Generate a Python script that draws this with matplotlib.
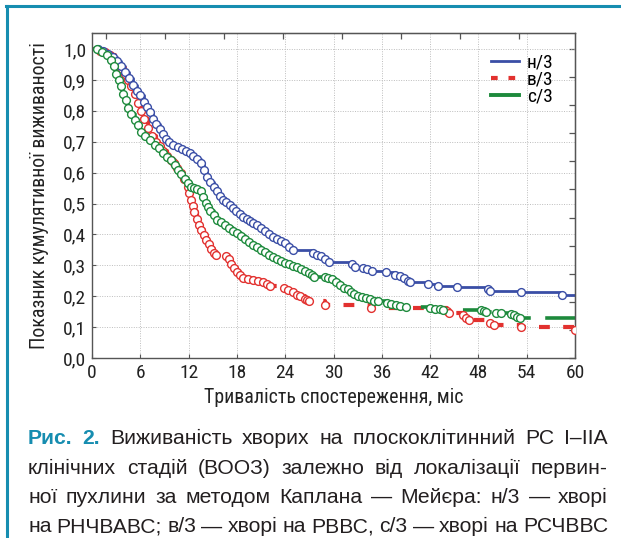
import numpy as np
import matplotlib
matplotlib.use("Agg")
import matplotlib.pyplot as plt
from matplotlib.lines import Line2D

# Kaplan-Meier curves: time (months), survival
blue_t = [0, 0.8, 1.4, 2.0, 2.6, 3.1, 3.6, 4.1, 4.6, 5.1, 5.6, 6.0, 6.4, 6.8, 7.2, 7.6, 8.0, 8.4, 8.8, 9.2,
          9.6, 10.1, 10.7, 11.2, 11.7, 12.2, 12.6, 13.0, 13.5, 13.9, 14.3, 14.7, 15.1, 15.5, 15.9, 16.3,
          16.7, 17.1, 17.5, 17.9, 18.4, 18.8, 19.2, 19.6, 20.0, 20.5, 21.0, 21.5, 22.0, 22.5, 23.0, 23.5,
          24.0, 24.5, 25.0, 27.5, 28.0, 28.5, 29.0, 29.5, 32.3, 32.7, 33.7, 34.1, 34.8, 36.5, 37.7, 38.3,
          38.8, 39.2, 39.5, 41.8, 43.0, 45.4, 49.2, 49.5, 53.3, 58.4, 60]
blue_s = [1.0, 1.0, 0.995, 0.985, 0.975, 0.96, 0.945, 0.925, 0.905, 0.885, 0.865, 0.85, 0.83, 0.812, 0.795,
          0.775, 0.758, 0.742, 0.725, 0.71, 0.70, 0.69, 0.684, 0.678, 0.67, 0.664, 0.655, 0.645, 0.632,
          0.61, 0.587, 0.57, 0.555, 0.54, 0.523, 0.513, 0.505, 0.495, 0.485, 0.475, 0.465, 0.458, 0.45,
          0.445, 0.438, 0.43, 0.42, 0.41, 0.40, 0.393, 0.385, 0.378, 0.372, 0.36, 0.348, 0.34, 0.335,
          0.33, 0.32, 0.31, 0.305, 0.295, 0.29, 0.288, 0.28, 0.278, 0.27, 0.265, 0.258, 0.25, 0.245,
          0.24, 0.232, 0.23, 0.222, 0.218, 0.214, 0.205, 0.205]

red_t = [0, 1.0, 1.6, 2.2, 2.8, 3.2, 3.7, 4.1, 4.5, 4.9, 5.3, 5.7, 6.1, 6.5, 7.0, 7.5, 8.0, 8.4, 8.8, 9.3,
         9.8, 10.2, 10.6, 11.0, 11.4, 11.9, 12.1, 12.3, 12.5, 12.7, 13.0, 13.3, 13.6, 13.9, 14.2, 14.5,
         14.8, 15.1, 15.4, 16.6, 17.0, 17.3, 17.6, 18.0, 18.4, 18.8, 19.4, 20.0, 20.6, 21.3, 21.7, 22.1,
         23.8, 24.4, 25.0, 25.5, 25.9, 26.4, 26.7, 27.0, 29.0, 34.6, 44.1, 44.4, 46.1, 46.4, 46.8, 49.4,
         49.9, 53.3, 60]
red_s = [1.0, 0.995, 0.99, 0.98, 0.965, 0.95, 0.935, 0.92, 0.90, 0.88, 0.855, 0.826, 0.80, 0.775, 0.745,
         0.72, 0.70, 0.685, 0.67, 0.655, 0.64, 0.632, 0.615, 0.60, 0.58, 0.555, 0.535, 0.513, 0.492,
         0.471, 0.45, 0.432, 0.415, 0.398, 0.383, 0.368, 0.353, 0.34, 0.335, 0.33, 0.32, 0.305, 0.29,
         0.278, 0.268, 0.26, 0.257, 0.254, 0.25, 0.245, 0.238, 0.232, 0.228, 0.22, 0.213, 0.205, 0.2,
         0.192, 0.188, 0.183, 0.17, 0.163, 0.152, 0.146, 0.138, 0.13, 0.122, 0.114, 0.106, 0.099, 0.09]

green_t = [0, 0.6, 1.2, 1.9, 2.4, 2.7, 3.0, 3.3, 3.6, 3.9, 4.2, 4.5, 4.9, 5.3, 5.7, 6.1, 6.6, 7.2, 7.8, 8.3,
           8.8, 9.3, 9.8, 10.3, 10.7, 11.1, 11.5, 11.9, 12.3, 12.7, 13.1, 13.5, 13.8, 14.1, 14.4, 14.7,
           15.1, 15.5, 16.0, 16.5, 17.0, 17.5, 18.0, 18.5, 19.0, 19.5, 20.0, 20.5, 21.0, 21.5, 22.0, 22.5,
           23.0, 23.5, 24.0, 24.5, 25.0, 25.5, 26.0, 26.5, 27.0, 27.3, 27.6, 28.9, 29.3, 29.8, 30.3, 30.8,
           31.3, 31.8, 32.2, 32.6, 33.0, 33.5, 34.0, 34.5, 35.0, 35.5, 36.6, 37.2, 37.8, 38.3, 39.0, 42.0,
           42.6, 43.2, 43.6, 48.3, 48.7, 49.0, 50.2, 50.8, 52.0, 52.4, 52.8, 53.2, 60]
green_s = [1.0, 1.0, 0.99, 0.98, 0.965, 0.945, 0.92, 0.90, 0.88, 0.855, 0.835, 0.81, 0.79, 0.77, 0.755,
           0.73, 0.72, 0.706, 0.69, 0.68, 0.665, 0.652, 0.64, 0.625, 0.61, 0.595, 0.58, 0.568, 0.555,
           0.55, 0.548, 0.54, 0.52, 0.503, 0.49, 0.475, 0.462, 0.448, 0.44, 0.43, 0.422, 0.412, 0.404,
           0.395, 0.386, 0.376, 0.366, 0.358, 0.35, 0.343, 0.335, 0.328, 0.32, 0.313, 0.308, 0.303,
           0.298, 0.293, 0.288, 0.282, 0.276, 0.27, 0.262, 0.262, 0.258, 0.255, 0.245, 0.235, 0.228,
           0.222, 0.215, 0.208, 0.202, 0.197, 0.193, 0.19, 0.186, 0.183, 0.178, 0.175, 0.17, 0.168,
           0.165, 0.163, 0.16, 0.158, 0.156, 0.154, 0.151, 0.149, 0.147, 0.145, 0.142, 0.138, 0.133,
           0.128, 0.128]

labels = ["н/3", "в/3", "с/3"]
x_ticks = list(range(0, 61, 6))
y_ticks = [0.0, 0.1, 0.2, 0.3, 0.4, 0.5, 0.6, 0.7, 0.8, 0.9, 1.0]

caption = [
    "Рис. 2. Виживаність хворих на плоскоклітинний РС I–IIA",
    "клінічних стадій (ВООЗ) залежно від локалізації первин-",
    "ної пухлини за методом Каплана — Мейєра: н/3 — хворі",
    "на РНЧВАВС; в/3 — хворі на РВВС, с/3 — хворі на РСЧВВС",
]

teal = "#168db0"
narrow = ["Roboto Condensed", "Roboto", "DejaVu Sans"]
W, H = 621, 538

fig = plt.figure(figsize=(W / 100, H / 100), dpi=100)
ax = fig.add_axes([92 / W, 1 - 358 / H, (575 - 92) / W, (358 - 33) / H])

series = [
    (labels[1], red_t, red_s, "#e2312f", dict(ls=(0, (2.6, 3.2)), lw=3.0), True),
    (labels[0], blue_t, blue_s, "#3a4ea6", dict(ls="-", lw=2.0), False),
    (labels[2], green_t, green_s, "#1d8a3c", dict(ls=(0, (8.5, 4)), lw=2.6), False),
]
for name, t, s, color, style, end_mark in series:
    t = np.array(t)
    s = np.array(s)
    ax.step(t, s, where="post", color=color, solid_capstyle="butt", dash_capstyle="butt", **style)
    m = (t > 0) & ((t < 60) | end_mark)
    ax.plot(t[m], s[m], ls="none", marker="o", ms=5.6, mfc="white", mec=color, mew=1.0, zorder=3)

handles = [
    Line2D([], [], color="#3a4ea6", lw=2.0),
    Line2D([], [], color="#e2312f", lw=3.0, ls=(0, (1.6, 2.6))),
    Line2D([], [], color="#1d8a3c", lw=2.8),
]
ax.legend(handles, labels, loc="upper left", bbox_to_anchor=(0.81, 0.96), frameon=False,
          prop={"family": narrow, "size": 14}, handlelength=1.45, handletextpad=0.4,
          labelspacing=-0.05, borderaxespad=0)

ax.set_xlim(0, 60)
ax.set_ylim(0, 1.052)
ax.set_xticks(x_ticks)
ax.set_xticklabels([str(v) for v in x_ticks], family=narrow, fontsize=14)
ax.set_yticks(y_ticks)
ax.set_yticklabels([f"{v:.1f}".replace(".", ",") for v in y_ticks], family=narrow, fontsize=14)
ax.tick_params(direction="in", length=3, width=0.8, color="#555555", pad=4, labelcolor="#222222")
ax.grid(True, ls=(0, (1, 1.5)), color="#bdbdbd", lw=0.7)
for sp in ax.spines.values():
    sp.set_color("#555555")
    sp.set_linewidth(1.0)

# odd tick spacing on the top and right axes, as in the original export
top = ax.secondary_xaxis("top")
top.set_xticks(np.arange(1.74, 60, 7.33))
top.tick_params(direction="in", length=4, width=0.9, color="#555555", labeltop=False)
right = ax.secondary_yaxis("right")
right.set_yticks(np.arange(0, 1.01, 1 / 11))
right.tick_params(direction="in", length=4, width=0.9, color="#555555", labelright=False)

ax.set_xlabel("Тривалість спостереження, міс", family=narrow, fontsize=14.3, va="center", color="#222222")
ax.xaxis.set_label_coords(0.5, -0.123)
ax.set_ylabel("Показник кумулятивної виживаності", family=narrow, fontsize=14.3, va="center",
              color="#222222")
ax.yaxis.set_label_coords(-0.108, 0.5)

# frame of the figure box
fig.add_artist(Line2D([6.5 / W, 6.5 / W], [0, 1 - 6 / H], transform=fig.transFigure, color=teal, lw=2.2))
fig.add_artist(Line2D([5.5 / W, 1], [1 - 6 / H, 1 - 6 / H], transform=fig.transFigure, color=teal, lw=2.2))

# justified caption
renderer = fig.canvas.get_renderer()
x0, x1 = 28, 608
baselines = [444, 473.5, 503, 532.5]
for i, line in enumerate(caption):
    words = line.split(" ")
    texts = []
    for j, w in enumerate(words):
        bold = i == 0 and j < 2
        texts.append(fig.text(0, 1 - baselines[i] / H, w, fontsize=15.2, va="baseline",
                              family=["Liberation Sans", "DejaVu Sans"],
                              weight="bold" if bold else "normal",
                              color=teal if bold else "#231f20"))
    widths = [t.get_window_extent(renderer).width for t in texts]
    gap = (x1 - x0 - sum(widths)) / (len(texts) - 1)
    x = x0
    for t, w in zip(texts, widths):
        t.set_x(x / W)
        x += w + gap

fig.savefig("out.png", dpi=100)
